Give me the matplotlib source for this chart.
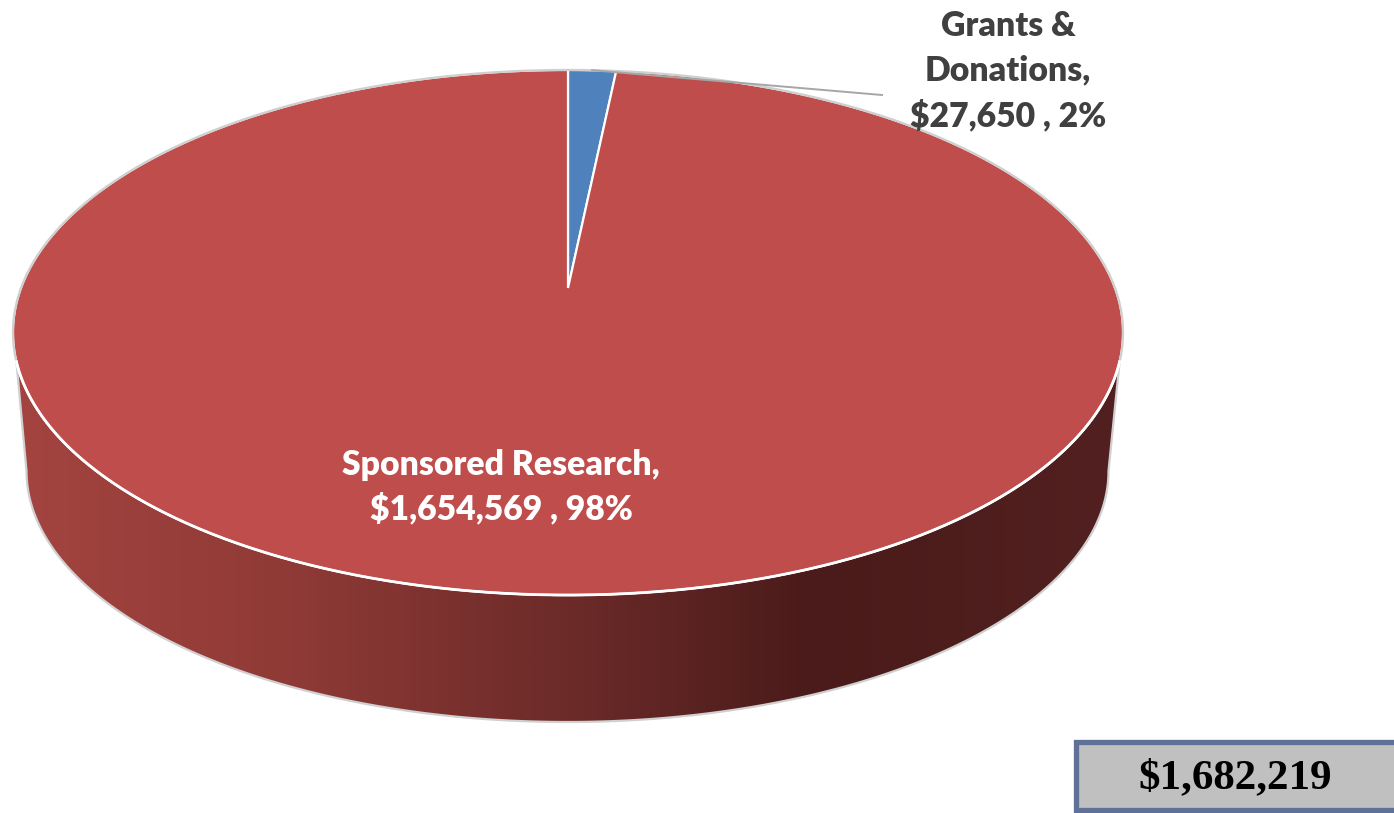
import numpy as np
import matplotlib
matplotlib.use("Agg")
import matplotlib.pyplot as plt
from matplotlib.patches import Polygon, Rectangle
from matplotlib.colors import LinearSegmentedColormap

# Data
categories = ["Grants &\nDonations", "Sponsored Research"]
values = [27650, 1654569]
colors = ["#4F81BD", "#BE4D4B"]
total_label = "$1,682,219"

W, H = 1394, 813
fig = plt.figure(figsize=(W / 100, H / 100), dpi=100)
ax = fig.add_axes([0, 0, 1, 1])
ax.set_xlim(0, W)
ax.set_ylim(H, 0)
ax.axis("off")

# Perspective projection of the unit disc (top face) onto the page
CX, CY = 568.0, 288.0
A, B, C = 0.1695, 255.0, 547.0


def top_face(theta):
    """theta clockwise from 12 o'clock, radians."""
    u, v = np.sin(theta), np.cos(theta)
    w = 1 + A * v
    return CX + C * u / w, CY - B * v / w


# Lower rim (same disc further down and slightly smaller)
LCX, LCY, LRX, LRY = 567.5, 471.0, 541.0, 251.0


def lower_rim(t):
    return LCX + LRX * np.sin(t), LCY - LRY * np.cos(t)


full = np.linspace(0, 2 * np.pi, 721)
tx, ty = top_face(full)

# Side wall
right_i = np.argmin(np.abs(ty[:360] - 362))
left_i = 720 - right_i
top_front = np.column_stack([tx[right_i:left_i + 1], ty[right_i:left_i + 1]])
t_low = np.linspace(np.pi * 0.50, np.pi * 1.50, 600)
lx, ly = lower_rim(t_low)
low = np.column_stack([lx, ly])[::-1]
side_xy = np.vstack([top_front, low])
side = Polygon(side_xy, closed=True, facecolor="none", edgecolor="#D0D0D0", lw=1.6, zorder=2)
ax.add_patch(side)

stops = [(0.00, "#A44440"), (0.25, "#8F3A36"), (0.50, "#6C2B29"),
         (0.72, "#4A1B1A"), (1.00, "#522020")]
cmap = LinearSegmentedColormap.from_list("side", stops)
grad = np.linspace(0, 1, 512).reshape(1, -1)
im = ax.imshow(grad, extent=(12, 1122, 730, 340), cmap=cmap, aspect="auto", zorder=1.5)
im.set_clip_path(side)
ax.set_xlim(0, W)
ax.set_ylim(H, 0)

# Top face wedges, from the values
fractions = np.array(values) / sum(values)
edges = np.concatenate([[0], np.cumsum(fractions)]) * 2 * np.pi
for a0, a1, col in zip(edges[:-1], edges[1:], colors):
    t = np.linspace(a0, a1, max(3, int((a1 - a0) * 180)))
    x, y = top_face(t)
    ax.add_patch(Polygon(np.column_stack([np.r_[CX, x], np.r_[CY, y]]), closed=True,
                         facecolor=col, edgecolor="white", lw=1.6, joinstyle="miter", zorder=3))

# Rim: grey outer line on the back half, white on the front
ax.plot(tx[:right_i + 1], ty[:right_i + 1], color="#CFCFCF", lw=1.6, zorder=4)
ax.plot(tx[left_i:], ty[left_i:], color="#CFCFCF", lw=1.6, zorder=4)
ax.plot(tx[right_i:left_i + 1], ty[right_i:left_i + 1], color="white", lw=2.0, zorder=4)

# Leader line
mid = edges[:2].mean()
mx, my = top_face(mid)
ax.plot([mx, 882], [my, 95], color="#A6A6A6", lw=1.4, zorder=5)

# Labels
pcts = fractions * 100
ax.text(1008, 71, f"{categories[0]},\n${values[0]:,} , {pcts[0]:.0f}%", ha="center", va="center",
        family="Lato", weight="heavy", fontsize=24.3, color="#404040", linespacing=1.5, zorder=6)
ax.text(501, 487, f"{categories[1]},\n${values[1]:,} , {pcts[1]:.0f}%", ha="center", va="center",
        family="Lato", weight="heavy", fontsize=24.3, color="white", linespacing=1.45, zorder=6)

# Total box
ax.add_patch(Rectangle((1076, 742), 322, 68, facecolor="#C0C0C0", edgecolor="#5F7197", lw=3.8, zorder=6))
ax.text(1235, 778, total_label, ha="center", va="center", family="Liberation Serif",
        weight="bold", fontsize=31, color="black", zorder=7)

fig.savefig("out.png", dpi=100)
